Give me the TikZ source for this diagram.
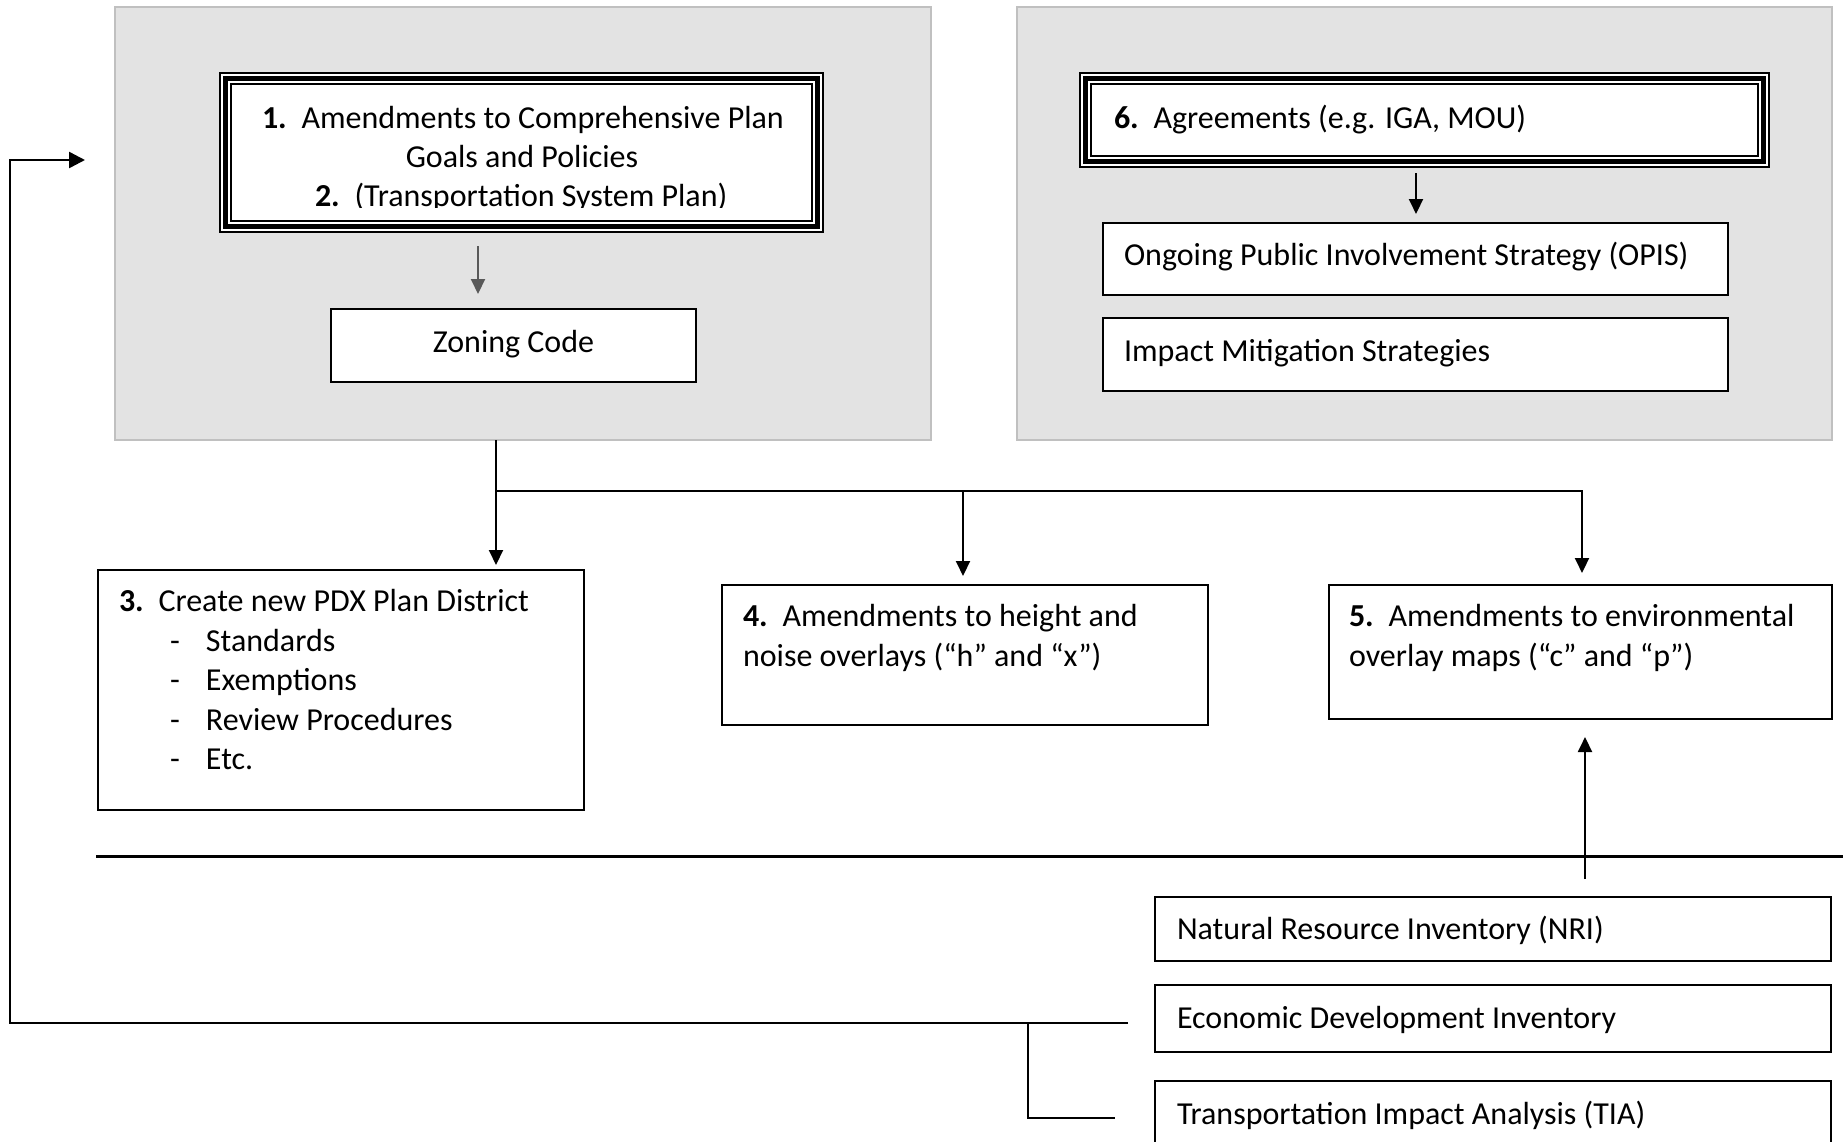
\documentclass[tikz,border=0pt]{standalone}
\usepackage{fontspec}
\setmainfont{Carlito}
\usetikzlibrary{arrows.meta,calc}
\definecolor{panelfill}{RGB}{227,227,227}
\definecolor{panelborder}{RGB}{192,192,192}
\definecolor{arrowgray}{RGB}{89,89,89}
\newcommand{\numlbl}[1]{\makebox[39.5pt][l]{\textbf{#1}}}
\newcommand{\dashitem}{\makebox[36pt][l]{-}}
\begin{document}
\begin{tikzpicture}[x=1pt,y=-1pt,
  panel/.style={draw=panelborder, line width=2pt, fill=panelfill, rectangle, inner sep=0pt, outer sep=0pt, anchor=north west},
  box/.style={draw=black, line width=1.8pt, fill=white, rectangle, inner sep=0pt, outer sep=0pt, anchor=north west},
  tbox/.style={fill=white, rectangle, inner sep=0pt, outer sep=0pt, anchor=north west},
  txt/.style={anchor=base west, inner sep=0pt, outer sep=0pt, font=\fontsize{32pt}{39pt}\selectfont},
  ctxt/.style={txt, anchor=base},
  conn/.style={line width=2pt, -{Triangle[length=15pt,width=14pt]}},
  grayconn/.style={draw=arrowgray, line width=2pt, -{Triangle[length=15pt,width=14pt]}},
  fbline/.style={line width=2.5pt, -{Triangle[length=16pt,width=16pt]}},
  thinline/.style={line width=1.3pt},
  divider/.style={line width=3pt}
]
\useasboundingbox (0,0) rectangle (1843,1141);
\clip (0,0) rectangle (1843,1141);

% panels
\node[panel, minimum width=816pt, minimum height=433pt] (lp) at (115,7) {};
\node[panel, minimum width=815pt, minimum height=433pt] (rp) at (1017,7) {};

% box 1 with triple frame
\node[tbox, minimum width=605pt, minimum height=161pt] (b1) at (219,72) {};
\draw[line width=2pt] ([shift={(1pt,-1pt)}]b1.north west) rectangle ([shift={(-1pt,1pt)}]b1.south east);
\draw[line width=5pt] ([shift={(6.5pt,-6.5pt)}]b1.north west) rectangle ([shift={(-6.5pt,6.5pt)}]b1.south east);
\draw[line width=2pt] ([shift={(12pt,-12pt)}]b1.north west) rectangle ([shift={(-12pt,12pt)}]b1.south east);
\node[txt] (b1a) at (262,128) {\numlbl{1.}Amendments to Comprehensive Plan};
\node[ctxt] (b1b) at (522,167) {Goals and Policies};
\begin{scope}
  \clip (219,72) rectangle (824,207);
  \node[txt] (b1c) at (315,206) {\numlbl{2.}(Transportation System Plan)};
\end{scope}

% box 6 with triple frame
\node[tbox, minimum width=691pt, minimum height=96pt] (b6) at (1079,72) {};
\draw[line width=2pt] ([shift={(1pt,-1pt)}]b6.north west) rectangle ([shift={(-1pt,1pt)}]b6.south east);
\draw[line width=5pt] ([shift={(6.5pt,-6.5pt)}]b6.north west) rectangle ([shift={(-6.5pt,6.5pt)}]b6.south east);
\draw[line width=2pt] ([shift={(12pt,-12pt)}]b6.north west) rectangle ([shift={(-12pt,12pt)}]b6.south east);
\node[txt] (b6t) at (1114,128) {\numlbl{6.}Agreements (e.g. IGA, MOU)};

% right panel boxes
\node[box, minimum width=625pt, minimum height=72pt] (opis) at (1103,223) {};
\node[txt] (opist) at (1124,265) {Ongoing Public Involvement Strategy (OPIS)};
\node[box, minimum width=625pt, minimum height=73pt] (ims) at (1103,318) {};
\node[txt] (imst) at (1124,361) {Impact Mitigation Strategies};

% zoning code
\node[box, minimum width=365pt, minimum height=73pt] (zc) at (331,309) {};
\node[ctxt] (zct) at (513.5,352) {Zoning Code};

% box 3
\node[box, minimum width=486pt, minimum height=240pt] (b3) at (98,570) {};
\node[txt] (b3a) at (119,611) {\numlbl{3.}Create new PDX Plan District};
\node[txt] (b3b) at (170,651) {\dashitem Standards};
\node[txt] (b3c) at (170,690) {\dashitem Exemptions};
\node[txt] (b3d) at (170,730) {\dashitem Review Procedures};
\node[txt] (b3e) at (170,769) {\dashitem Etc.};

% box 4
\node[box, minimum width=486pt, minimum height=140pt] (b4) at (722,585) {};
\node[txt] (b4a) at (743,626) {\numlbl{4.}Amendments to height and};
\node[txt] (b4b) at (743,666) {noise overlays (“h” and “x”)};

% box 5
\node[box, minimum width=503pt, minimum height=134pt] (b5) at (1329,585) {};
\node[txt] (b5a) at (1349,626) {\numlbl{5.}Amendments to environmental};
\node[txt] (b5b) at (1349,666) {overlay maps (“c” and “p”)};

% bottom boxes
\node[box, minimum width=676pt, minimum height=64pt] (nri) at (1155,897) {};
\node[txt] (nrit) at (1177,939) {Natural Resource Inventory (NRI)};
\node[box, minimum width=676pt, minimum height=67pt] (edi) at (1155,985) {};
\node[txt] (edit) at (1177,1028) {Economic Development Inventory};
\node[box, minimum width=676pt, minimum height=80pt] (tia) at (1155,1081) {};
\node[txt] (tiat) at (1177,1124) {Transportation Impact Analysis (TIA)};

% helper coordinates
\coordinate (gx) at (478,0);
\coordinate (ax) at (1416,0);
\coordinate (sx) at (496,0);
\coordinate (hy) at (0,491);
\coordinate (j4) at (963,0);
\coordinate (j5) at (1582,0);
\coordinate (ux) at (1585,0);
\coordinate (dl) at (96,856);
\coordinate (dr) at (1843,856);
\coordinate (fbs) at (1128,1023);
\coordinate (fbc) at (10,160);
\coordinate (tbs) at (1028,1023);
\coordinate (tbe) at (1115,1118);

% connectors
\draw[grayconn, shorten <=13pt, shorten >=15pt] (b1.south -| gx) -- (zc.north -| gx);
\draw[conn, shorten <=5pt, shorten >=9pt] (b6.south -| ax) -- (opis.north -| ax);
\draw[conn, shorten >=5pt] (lp.south -| sx) -- (b3.north -| sx);
\draw[conn, shorten >=12pt] (sx |- hy) -- (j5 |- hy) -- (b5.north -| j5);
\draw[conn, shorten >=9pt] (j4 |- hy) -- (b4.north -| j4);
\draw[conn, shorten <=18pt, shorten >=18pt] (nri.north -| ux) -- (b5.south -| ux);
\draw[divider] (dl) -- (dr);
\draw[fbline, shorten >=30pt] (fbs) -| (fbc) -- (lp.west |- fbc);
\draw[thinline] (tbs) |- (tbe);
\end{tikzpicture}
\end{document}
